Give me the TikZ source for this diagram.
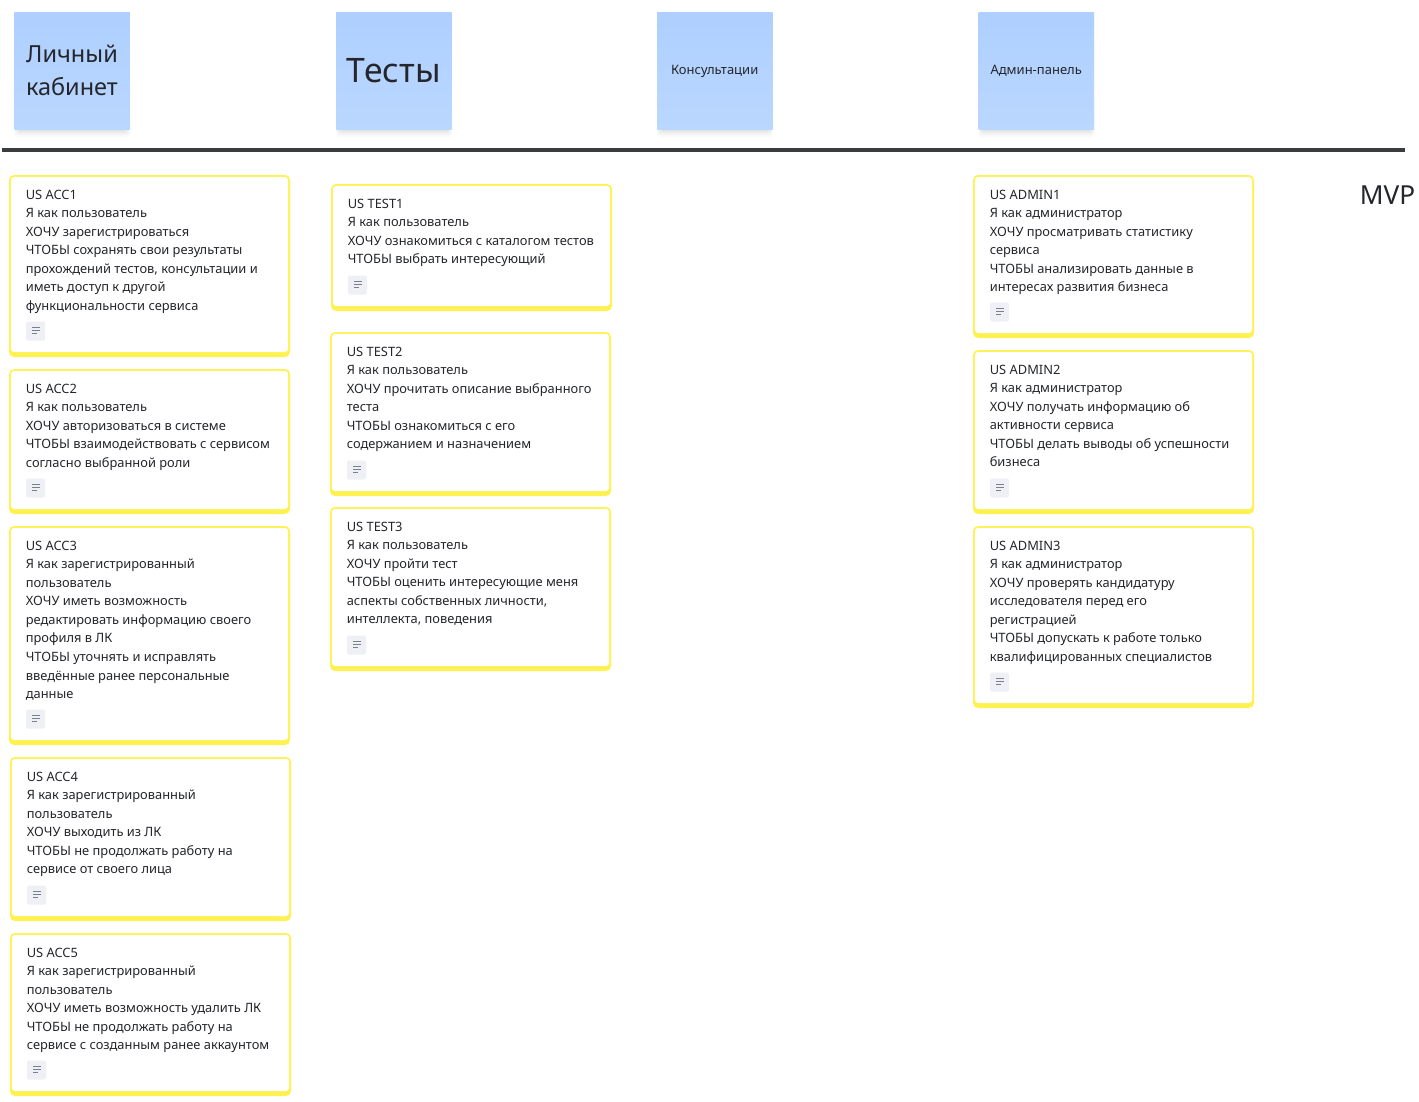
\documentclass[tikz,border=0pt]{standalone}
\usepackage{fontspec}
\setmainfont{Noto Sans}
\definecolor{cardy}{HTML}{FFF250}
\definecolor{stickt}{HTML}{AECFFF}
\definecolor{stickb}{HTML}{BAD7FF}
\definecolor{ink}{HTML}{24262B}
\definecolor{iconbg}{HTML}{EEF0F5}
\definecolor{iconfg}{HTML}{7A7F8C}
\tikzset{
  x=1pt,y=-1pt,
  cardouter/.style={fill=cardy,draw=none,rounded corners=5pt},
  cardinner/.style={fill=white,draw=none,rounded corners=3.5pt},
  cardtext/.style={anchor=north west,inner sep=0pt,align=left,text=ink,font=\fontsize{12.87}{18.55}\selectfont},
  iconbox/.style={fill=iconbg,draw=none,rounded corners=2pt},
  iconline/.style={draw=iconfg,line width=0.8pt},
  stickytext/.style={inner sep=0pt,align=center,text=ink},
}
\newcommand{\cardbox}[6]{% name x1 y1 x2 y2 text
  \fill[cardouter] (#2,#3) rectangle (#4,#5);
  \fill[cardinner] (#2+1.8,#3+1.8) rectangle (#4-1.8,#5-5);
  \node[cardtext] (#1) at (#2+16.6,#3+12) {\rule{0pt}{12pt}#6};
  \fill[iconbox] (#2+17,#5-35.5) rectangle (#2+36,#5-16.5);
  \draw[iconline] (#2+23,#5-29.5) -- (#2+31,#5-29.5);
  \draw[iconline] (#2+23,#5-26.5) -- (#2+31,#5-26.5);
  \draw[iconline] (#2+23,#5-23.5) -- (#2+28,#5-23.5);
}
\newcommand{\sticky}[6]{% name x fontsize leading text yoffset
  \foreach \k/\o in {8/0.018,6/0.025,4/0.035,2/0.04}{
    \fill[black,opacity=\o,rounded corners=3pt] (#2+4-\k/2,100) rectangle (#2+112+\k/2,129+\k);
  }
  \shade[top color=stickt,bottom color=stickb] (#2,12) rectangle (#2+115.5,129.5);
  \node[stickytext,font=\fontsize{#3}{#4}\selectfont] (#1) at (#2+57.7,#6) {#5};
}
\begin{document}
\begin{tikzpicture}
\useasboundingbox (0,0) rectangle (1419,1101);
\sticky{s1}{14.3}{23.5}{32.5}{Личный\\кабинет}{70.5}
\sticky{s2}{336}{33.7}{40}{Тесты}{70.5}
\sticky{s3}{657}{13}{16}{Консультации}{71}
\sticky{s4}{978.5}{13}{16}{Админ-панель}{71}
\coordinate (divL) at (2,150);
\coordinate (divR) at (1405,150);
\draw[line width=3.6pt,color=ink!90!white] (divL) -- (divR);
\node[inner sep=0pt,text=ink,font=\fontsize{26.2}{30}\selectfont] (mvp) at (1387.5,195) {MVP};
\cardbox{acc1}{9}{175}{290}{357}{US ACC1\\Я как пользователь\\ХОЧУ зарегистрироваться\\ЧТОБЫ сохранять свои результаты\\прохождений тестов, консультации и\\иметь доступ к другой\\функциональности сервиса}
\cardbox{acc2}{9}{369}{290}{514}{US ACC2\\Я как пользователь\\ХОЧУ авторизоваться в системе\\ЧТОБЫ взаимодействовать с сервисом\\согласно выбранной роли}
\cardbox{acc3}{9}{526}{290}{745}{US ACC3\\Я как зарегистрированный\\пользователь\\ХОЧУ иметь возможность\\редактировать информацию своего\\профиля в ЛК\\ЧТОБЫ уточнять и исправлять\\введённые ранее персональные\\данные}
\cardbox{acc4}{10}{757}{291}{921}{US ACC4\\Я как зарегистрированный\\пользователь\\ХОЧУ выходить из ЛК\\ЧТОБЫ не продолжать работу на\\сервисе от своего лица}
\cardbox{acc5}{10}{933}{291}{1096}{US ACC5\\Я как зарегистрированный\\пользователь\\ХОЧУ иметь возможность удалить ЛК\\ЧТОБЫ не продолжать работу на\\сервисе с созданным ранее аккаунтом}
\cardbox{test1}{331}{184}{612}{311}{US TEST1\\Я как пользователь\\ХОЧУ ознакомиться с каталогом тестов\\ЧТОБЫ выбрать интересующий}
\cardbox{test2}{330}{332}{611}{496}{US TEST2\\Я как пользователь\\ХОЧУ прочитать описание выбранного\\теста\\ЧТОБЫ ознакомиться с его\\содержанием и назначением}
\cardbox{test3}{330}{507}{611}{671}{US TEST3\\Я как пользователь\\ХОЧУ пройти тест\\ЧТОБЫ оценить интересующие меня\\аспекты собственных личности,\\интеллекта, поведения}
\cardbox{adm1}{973}{175}{1254}{338}{US ADMIN1\\Я как администратор\\ХОЧУ просматривать статистику\\сервиса\\ЧТОБЫ анализировать данные в\\интересах развития бизнеса}
\cardbox{adm2}{973}{350}{1254}{514}{US ADMIN2\\Я как администратор\\ХОЧУ получать информацию об\\активности сервиса\\ЧТОБЫ делать выводы об успешности\\бизнеса}
\cardbox{adm3}{973}{526}{1254}{708}{US ADMIN3\\Я как администратор\\ХОЧУ проверять кандидатуру\\исследователя перед его\\регистрацией\\ЧТОБЫ допускать к работе только\\квалифицированных специалистов}
\end{tikzpicture}
\end{document}
